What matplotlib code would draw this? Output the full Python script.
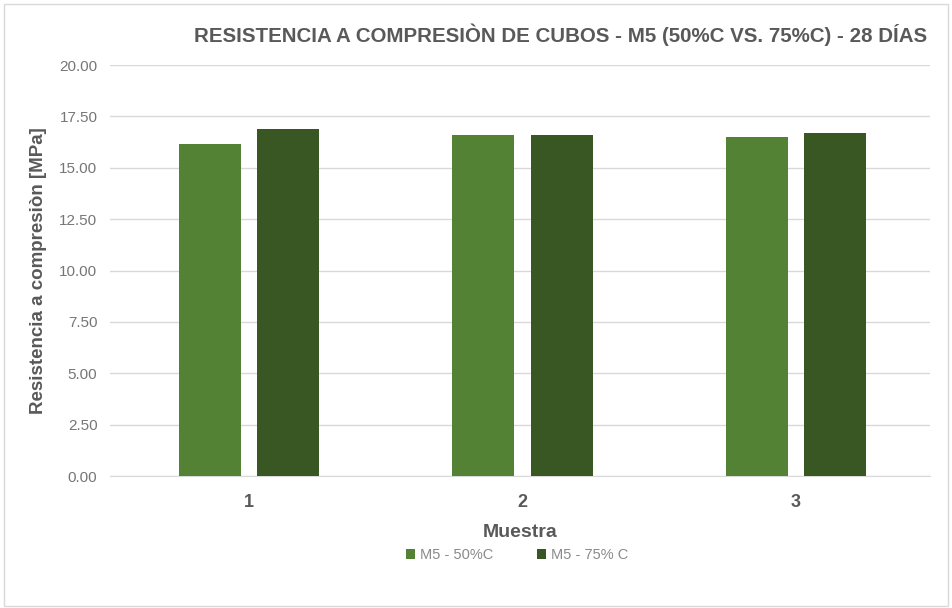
import numpy as np
import matplotlib.pyplot as plt
from matplotlib.patches import Rectangle

muestras = ["1", "2", "3"]
m5_50 = [16.15, 16.62, 16.50]
m5_75 = [16.88, 16.58, 16.68]
series_labels = ["M5 - 50%C", "M5 - 75% C"]

plt.rcParams['font.family'] = ['Liberation Sans', 'DejaVu Sans']

fig = plt.figure(figsize=(9.52, 6.08), dpi=100)
fig.set_facecolor("#ffffff")
# chart border
fig.patches.append(Rectangle((0.004, 0.004), 0.992, 0.99, transform=fig.transFigure,
                             fill=False, edgecolor="#d9d9d9", linewidth=1))

ax = fig.add_axes([0.1155, 0.217, 0.861, 0.676])

x = np.arange(1, len(muestras) + 1)
w = 0.227
off = 0.143
ax.bar(x - off, m5_50, width=w, color="#548235", label=series_labels[0], zorder=3)
ax.bar(x + off, m5_75, width=w, color="#385723", label=series_labels[1], zorder=3)

ax.set_xlim(0.49, 3.49)
ax.set_ylim(0, 20)
ax.set_yticks(np.arange(0, 20.01, 2.5))
ax.set_yticklabels(["%.2f" % v for v in np.arange(0, 20.01, 2.5)], color="#767676", fontsize=11)
ax.set_xticks(x)
ax.set_xticklabels(muestras, fontsize=13, fontweight="bold", color="#595959")
ax.tick_params(axis="both", length=0)
ax.tick_params(axis="y", pad=9)
ax.tick_params(axis="x", pad=13)
ax.grid(axis="y", color="#d9d9d9", linewidth=1, zorder=0)
for s in ["top", "right", "left"]:
    ax.spines[s].set_visible(False)
ax.spines["bottom"].set_color("#d9d9d9")

ax.set_xlabel("Muestra", fontsize=14, fontweight="bold", color="#595959", labelpad=9)
ax.set_ylabel("Resistencia a compresiòn [MPa]", fontsize=13.5, fontweight="bold", color="#595959", labelpad=9)

fig.text(0.589, 0.943, "RESISTENCIA A COMPRESIÒN DE CUBOS - M5 (50%C VS. 75%C) - 28 DÍAS",
         ha="center", va="center", fontsize=14.8, fontweight="bold", color="#595959")

leg = fig.legend(loc="center", bbox_to_anchor=(0.543, 0.087), ncol=2, frameon=False,
                 fontsize=10.5, handlelength=0.6, handleheight=0.6, handletextpad=0.35,
                 columnspacing=3.0, labelcolor="#8a8a8a")

plt.savefig("out.png", dpi=100)
